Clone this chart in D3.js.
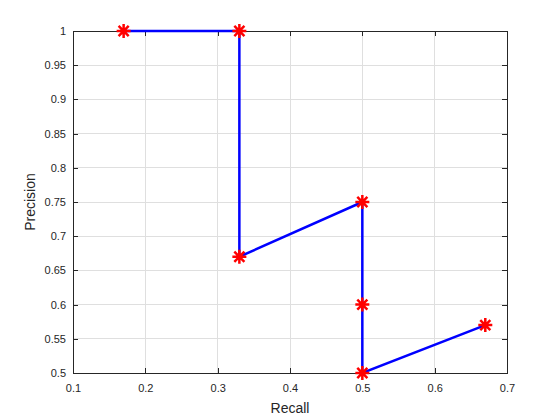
<!DOCTYPE html>
<html><head><meta charset="utf-8">
<script src="https://cdn.jsdelivr.net/npm/d3@7"></script>
<style>body{margin:0;background:#fff}svg{display:block}</style>
</head><body>
<script>
const recall = [0.17, 0.33, 0.33, 0.5, 0.5, 0.5, 0.67];
const precision = [1.0, 1.0, 0.67, 0.75, 0.6, 0.5, 0.57];
const xTicks = [0.1, 0.2, 0.3, 0.4, 0.5, 0.6, 0.7];
const yTicks = [0.5, 0.55, 0.6, 0.65, 0.7, 0.75, 0.8, 0.85, 0.9, 0.95, 1];
const xLabel = "Recall";
const yLabel = "Precision";

const W = 560, H = 420;
const L = 73, T = 31, R = 507, B = 373;
const svg = d3.select("body").append("svg").attr("width", W).attr("height", H);
const x = d3.scaleLinear().domain([0.1, 0.7]).range([L, R]);
const y = d3.scaleLinear().domain([0.5, 1]).range([B, T]);
const axisColor = "#262626";
const font = "'Liberation Sans', Arial, Helvetica, sans-serif";

// grid
const g = svg.append("g");
g.selectAll(".gx").data(xTicks).enter().append("line")
  .attr("x1", d => x(d)).attr("x2", d => x(d)).attr("y1", T).attr("y2", B)
  .attr("stroke", "#dfdfdf").attr("stroke-width", 1).attr("shape-rendering", "crispEdges");
g.selectAll(".gy").data(yTicks).enter().append("line")
  .attr("y1", d => y(d)).attr("y2", d => y(d)).attr("x1", L).attr("x2", R)
  .attr("stroke", "#dfdfdf").attr("stroke-width", 1).attr("shape-rendering", "crispEdges");

// axes
const tl = 5;
const fmt = d => String(+d.toFixed(2));
const ax = svg.append("g").attr("transform", `translate(0,${B})`)
  .call(d3.axisBottom(x).tickValues(xTicks).tickFormat(fmt).tickSizeInner(-tl).tickSizeOuter(0).tickPadding(11));
const axT = svg.append("g").attr("transform", `translate(0,${T})`)
  .call(d3.axisTop(x).tickValues(xTicks).tickFormat("").tickSizeInner(-tl).tickSizeOuter(0));
const ay = svg.append("g").attr("transform", `translate(${L},0)`)
  .call(d3.axisLeft(y).tickValues(yTicks).tickFormat(fmt).tickSizeInner(-tl).tickSizeOuter(0).tickPadding(7));
const ayR = svg.append("g").attr("transform", `translate(${R},0)`)
  .call(d3.axisRight(y).tickValues(yTicks).tickFormat("").tickSizeInner(-tl).tickSizeOuter(0));
[ax, axT, ay, ayR].forEach(a => {
  a.selectAll("path").attr("stroke", axisColor).attr("shape-rendering", "crispEdges");
  a.selectAll("line").attr("stroke", axisColor).attr("shape-rendering", "crispEdges");
  a.selectAll("text").attr("fill", axisColor).style("font-family", font).style("font-size", "11px");
});

// line
svg.append("path").datum(recall.map((r, i) => [r, precision[i]]))
  .attr("d", d3.line().x(d => x(d[0])).y(d => y(d[1])))
  .attr("fill", "none").attr("stroke", "#0000ff").attr("stroke-width", 2.5);

// asterisk markers
const s = 7, s2 = s * 0.72;
const star = `M${-s},0L${s},0M0,${-s}L0,${s}M${-s2},${-s2}L${s2},${s2}M${-s2},${s2}L${s2},${-s2}`;
svg.selectAll(".mk").data(recall.map((r, i) => [r, precision[i]])).enter().append("path")
  .attr("transform", d => `translate(${x(d[0])},${y(d[1])})`)
  .attr("d", star).attr("stroke", "#ff0000").attr("stroke-width", 2.5).attr("fill", "none");

// labels
svg.append("text").attr("x", (L + R) / 2).attr("y", 413).attr("text-anchor", "middle")
  .attr("fill", axisColor).style("font-family", font).style("font-size", "14px").text(xLabel);
svg.append("text").attr("transform", `translate(35,${(T + B) / 2}) rotate(-90)`).attr("text-anchor", "middle")
  .attr("fill", axisColor).style("font-family", font).style("font-size", "14px").text(yLabel);
</script>
</body></html>
